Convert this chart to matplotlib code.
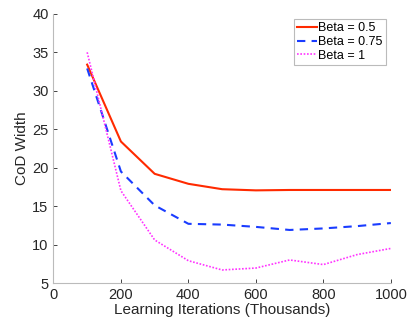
import matplotlib.pyplot as plt

plt.rcParams['font.family'] = ['Liberation Sans', 'DejaVu Sans']

iters = [100, 200, 300, 400, 500, 600, 700, 800, 900, 1000]
beta_05 = [33.4, 23.4, 19.2, 17.9, 17.2, 17.05, 17.1, 17.1, 17.1, 17.1]
beta_075 = [32.9, 19.5, 15.1, 12.7, 12.6, 12.3, 11.9, 12.1, 12.4, 12.8]
beta_1 = [35.0, 17.0, 10.6, 7.9, 6.7, 6.95, 8.0, 7.4, 8.7, 9.5]

fig = plt.figure(figsize=(4.11, 3.22), dpi=100)
ax = fig.add_axes([0.130, 0.121, 0.821, 0.836])

ax.plot(iters, beta_05, color='#ff2a00', lw=1.5, label='Beta = 0.5')
ax.plot(iters, beta_075, color='#1a3cff', lw=1.5, ls=(0, (4, 3)), label='Beta = 0.75')
ax.plot(iters, beta_1, color='#ff33ff', lw=1.2, ls=(0, (1, 1)), label='Beta = 1')

ax.set_xlim(0, 1000)
ax.set_ylim(5, 40)
ax.set_xticks([0, 200, 400, 600, 800, 1000])
ax.set_yticks([5, 10, 15, 20, 25, 30, 35, 40])
ax.set_xlabel('Learning Iterations (Thousands)', fontsize=11, color='#262626', labelpad=1)
ax.set_ylabel('CoD Width', fontsize=11, color='#262626', labelpad=2)
ax.tick_params(direction='in', labelsize=10.5, colors='#262626', length=3, width=0.6)
for s in ['top', 'right']:
    ax.spines[s].set_visible(False)
for s in ['left', 'bottom']:
    ax.spines[s].set_color('#bbbbbb')
    ax.spines[s].set_linewidth(0.8)

leg = ax.legend(loc='upper right', fontsize=9, handlelength=1.6, handletextpad=0.1,
                borderpad=0.25, labelspacing=0.15, fancybox=False, framealpha=1,
                borderaxespad=0, bbox_to_anchor=(0.985, 0.981))
leg.get_frame().set_edgecolor('#bbbbbb')
leg.get_frame().set_linewidth(0.8)

fig.savefig('out.png', dpi=100)
